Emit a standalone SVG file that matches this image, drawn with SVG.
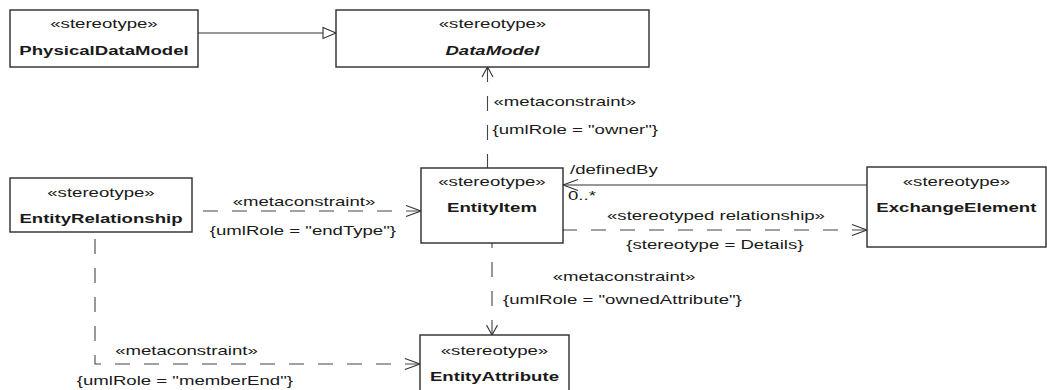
<svg xmlns="http://www.w3.org/2000/svg" width="1047" height="390" viewBox="0 0 1047 390">
<style>
text{font-family:"Liberation Sans",Arial,sans-serif;font-size:13px;fill:#1a1a1a;transform:scaleX(1.43);transform-box:fill-box;transform-origin:center}
.c{text-anchor:middle}
.l{text-anchor:start;transform-origin:left center}
.b{font-weight:bold}
.bi{font-weight:bold;font-style:italic}
.box{fill:#fff;stroke:#2b2b2b;stroke-width:1.4}
.solid{fill:none;stroke:#333;stroke-width:1.1}
.dash{fill:none;stroke:#444;stroke-width:1.1;stroke-dasharray:15 14}
</style>
<defs>
<marker id="openH" markerUnits="userSpaceOnUse" markerWidth="20" markerHeight="14" refX="15" refY="6" orient="auto-start-reverse" overflow="visible">
<path d="M0,0.5 L15,6 L0,11.5" fill="none" stroke="#333" stroke-width="1.1"/>
</marker>
<marker id="openV" markerUnits="userSpaceOnUse" markerWidth="14" markerHeight="14" refX="10" refY="6" orient="auto-start-reverse" overflow="visible">
<path d="M0,0.5 L10,6 L0,11.5" fill="none" stroke="#333" stroke-width="1.1"/>
</marker>
<marker id="gen" markerUnits="userSpaceOnUse" markerWidth="16" markerHeight="14" refX="13" refY="6" orient="auto" overflow="visible">
<path d="M0,0.5 L13,6 L0,11.5 Z" fill="#fff" stroke="#333" stroke-width="1.1"/>
</marker>
</defs>

<g id="connectors">
<path class="solid" d="M198,33 H336" marker-end="url(#gen)"/>
<path class="dash" d="M487.5,67 V168" marker-start="url(#openV)"/>
<path class="dash" d="M421,211 H192" marker-start="url(#openH)"/>
<path class="solid" d="M563,185 H867" marker-start="url(#openH)"/>
<path class="dash" d="M867,230 H563" marker-start="url(#openH)"/>
<path class="dash" d="M492,335 V243" marker-start="url(#openV)"/>
<path class="dash" d="M420,364 H95 V232" marker-start="url(#openH)"/>
<text class="l" x="493.5" y="106">«metaconstraint»</text>
<text class="l" x="492.5" y="134">{umlRole = "owner"}</text>
<text class="c" x="304" y="206">«metaconstraint»</text>
<text class="c" x="303" y="235">{umlRole = "endType"}</text>
<text class="l" x="570" y="174">/definedBy</text>
<text class="l" x="568" y="200">0..*</text>
<text class="c" x="716" y="220">«stereotyped relationship»</text>
<text class="c" x="715" y="249">{stereotype = Details}</text>
<text class="c" x="624" y="281">«metaconstraint»</text>
<text class="c" x="622.5" y="304">{umlRole = "ownedAttribute"}</text>
<text class="c" x="186.5" y="355">«metaconstraint»</text>
<text class="c" x="185" y="385">{umlRole = "memberEnd"}</text>
</g>

<g id="PhysicalDataModel">
<rect class="box" x="10" y="10" width="188" height="57"/>
<text class="c" x="104" y="28.5">«stereotype»</text>
<text class="c b" x="104" y="55.5">PhysicalDataModel</text>
</g>

<g id="DataModel">
<rect class="box" x="336" y="10" width="313" height="57"/>
<text class="c" x="492.5" y="28.5">«stereotype»</text>
<text class="c bi" x="492.5" y="55.5">DataModel</text>
</g>

<g id="EntityRelationship">
<rect class="box" x="10" y="178" width="182" height="54"/>
<text class="c" x="101" y="197">«stereotype»</text>
<text class="c b" x="101" y="223">EntityRelationship</text>
</g>

<g id="EntityItem">
<rect class="box" x="421" y="168" width="142" height="75"/>
<text class="c" x="492" y="186">«stereotype»</text>
<text class="c b" x="492" y="212">EntityItem</text>
</g>

<g id="ExchangeElement">
<rect class="box" x="867" y="167" width="179" height="80"/>
<text class="c" x="956.5" y="186">«stereotype»</text>
<text class="c b" x="956.5" y="212">ExchangeElement</text>
</g>

<g id="EntityAttribute">
<rect class="box" x="420" y="335" width="149" height="60"/>
<text class="c" x="494.5" y="355">«stereotype»</text>
<text class="c b" x="494.5" y="381">EntityAttribute</text>
</g>
</svg>
